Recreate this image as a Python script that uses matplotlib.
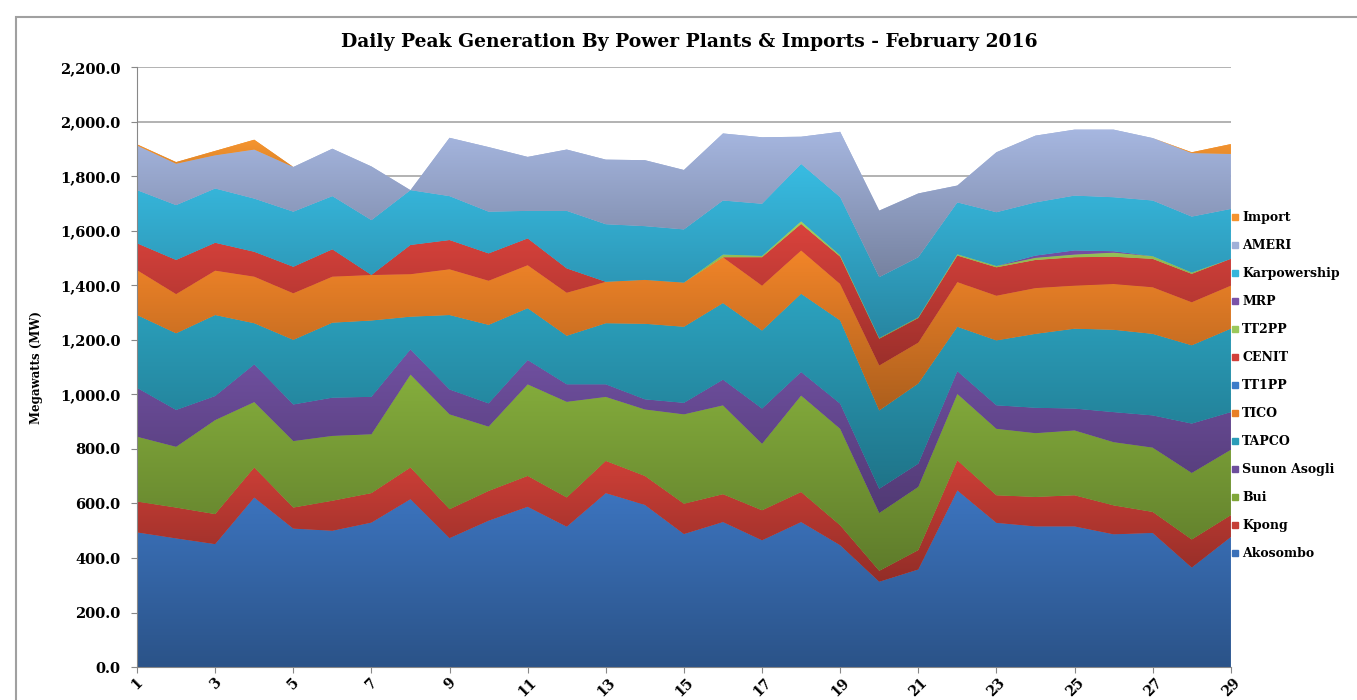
import numpy as np
import matplotlib.pyplot as plt
from matplotlib.colors import to_rgb
from matplotlib.lines import Line2D
from matplotlib.patches import Rectangle

days = np.arange(1, 30)

akosombo = [494, 472, 451, 622, 508, 500, 530, 616, 473, 537, 588, 515, 638, 595, 488,
            532, 465, 532, 447, 313, 358, 648, 529, 516, 516, 487, 492, 365, 477]
kpong = [113, 113, 110, 110, 77, 110, 108, 116, 106, 109, 113, 107, 118, 106, 111,
         102, 110, 110, 73, 40, 71, 110, 101, 108, 114, 106, 77, 103, 80]
bui = [238, 223, 345, 240, 244, 238, 216, 341, 348, 236, 336, 351, 235, 244, 328,
       326, 244, 354, 354, 212, 232, 244, 244, 234, 238, 232, 236, 244, 240]
sunon_asogli = [179, 135, 88, 138, 134, 140, 137, 92, 91, 85, 89, 64, 46, 37, 42,
                94, 129, 86, 92, 89, 85, 83, 86, 93, 80, 110, 118, 181, 138]
tapco = [267, 281, 297, 151, 237, 275, 280, 120, 273, 288, 190, 178, 224, 277, 279,
         281, 286, 287, 305, 287, 294, 163, 238, 271, 293, 302, 299, 287, 306]
tico = [165, 144, 163, 171, 171, 169, 167, 156, 168, 162, 158, 158, 152, 161, 162,
        168, 165, 159, 134, 165, 150, 164, 164, 168, 158, 168, 171, 158, 158]
tt1pp = [0] * 29
cenit = [98, 125, 102, 91, 97, 100, 0, 107, 107, 100, 98, 89, 0, 0, 0,
         0, 104, 97, 100, 98, 90, 97, 104, 103, 104, 100, 104, 104, 98]
tt2pp = [0, 0, 0, 0, 0, 0, 0, 0, 0, 0, 0, 0, 0, 0, 0,
         10, 5, 10, 5, 3, 3, 5, 5, 8, 10, 15, 10, 5, 0]
mrp = [0, 0, 0, 0, 0, 0, 0, 0, 0, 0, 0, 0, 0, 0, 0,
       0, 0, 0, 0, 0, 0, 0, 0, 8, 15, 5, 0, 0, 0]
karpowership = [195, 201, 199, 195, 202, 195, 201, 201, 161, 153, 101, 211, 211, 197, 195,
                198, 191, 210, 213, 223, 220, 190, 197, 195, 201, 198, 204, 205, 183]
ameri = [164, 152, 122, 180, 164, 174, 197, 0, 214, 237, 198, 225, 237, 242, 218,
         246, 244, 100, 240, 244, 234, 62, 220, 245, 242, 248, 229, 233, 202]
imports = [4, 6, 16, 36, 0, 0, 0, 0, 0, 0, 0, 0, 0, 0, 0,
           0, 0, 0, 0, 0, 0, 0, 0, 0, 0, 0, 0, 3, 36]

names = ['Akosombo', 'Kpong', 'Bui', 'Sunon Asogli', 'TAPCO', 'TICO', 'TT1PP',
         'CENIT', 'TT2PP', 'MRP', 'Karpowership', 'AMERI', 'Import']
series = [akosombo, kpong, bui, sunon_asogli, tapco, tico, tt1pp,
          cenit, tt2pp, mrp, karpowership, ameri, imports]
colors = ['#3A70B8', '#C63D35', '#80A73A', '#6D4E9C', '#2A9CB8', '#E98027', '#3C7CC9',
          '#D2403A', '#9BC85A', '#7A52A8', '#36B5DA', '#A0B0D8', '#F5942F']

font = 'DejaVu Serif'

fig = plt.figure(figsize=(13.57, 7.0), dpi=100)
ax = fig.add_axes([0.101, 0.047, 0.806, 0.857])

polys = ax.stackplot(days, *series, colors=colors, linewidth=0, zorder=1)

# vertical gradient inside each band, darker at the bottom
cum = np.zeros(len(days))
grad = np.linspace(0, 1, 256)[:, None, None]
for poly, vals, col in zip(polys, series, colors):
    vals = np.array(vals, dtype=float)
    lower, upper = cum.copy(), cum + vals
    cum = upper
    if vals.max() == 0:
        continue
    rgb = np.array(to_rgb(col))
    img = rgb * 0.74 * (1 - grad) + np.minimum(rgb * 1.04, 1) * grad
    im = ax.imshow(img, extent=[1, 29, lower.min(), upper.max()], origin='lower',
                   aspect='auto', interpolation='bilinear', zorder=2)
    im.set_clip_path(poly.get_paths()[0], transform=ax.transData)

ax.set_xlim(1, 29)
ax.set_ylim(0, 2200)

ax.set_yticks(np.arange(0, 2201, 200))
ax.set_yticklabels([f'{v:,.1f}' for v in np.arange(0, 2201, 200)],
                   fontfamily=font, fontweight='bold', fontsize=10.5)
ax.set_xticks(days[::2])
ax.set_xticklabels([str(d) for d in days[::2]], rotation=45, ha='center',
                   fontfamily=font, fontweight='bold', fontsize=10)
ax.tick_params(axis='both', length=4, color='#888888')
ax.tick_params(axis='y', pad=8)
ax.tick_params(axis='x', pad=2)
ax.yaxis.grid(True, color='#A6A6A6', linewidth=1.2)
ax.set_axisbelow(True)
for side in ['top', 'right']:
    ax.spines[side].set_visible(False)
for side in ['left', 'bottom']:
    ax.spines[side].set_color('#888888')

ax.set_ylabel('Megawatts (MW)', fontfamily=font, fontweight='bold', fontsize=8.5, labelpad=12)

fig.text(0.508, 0.94, 'Daily Peak Generation By Power Plants & Imports - February 2016',
         ha='center', va='center', fontfamily=font, fontweight='bold', fontsize=13.5)

handles = [Line2D([], [], marker='s', linestyle='none', markersize=5,
                  markerfacecolor=c, markeredgecolor=c) for c in colors]
fig.legend(handles[::-1], names[::-1], loc='upper left', bbox_to_anchor=(0.907, 0.698),
           frameon=False, prop={'family': font, 'weight': 'bold', 'size': 9},
           handlelength=0.6, handletextpad=0.3, labelspacing=1.2, borderpad=0,
           borderaxespad=0)

fig.patches.append(Rectangle((16 / 1357, -0.05), 1.1, 1.026, transform=fig.transFigure,
                             fill=False, edgecolor='#A0A0A0', linewidth=1.5))

fig.savefig('out.png', dpi=100)
